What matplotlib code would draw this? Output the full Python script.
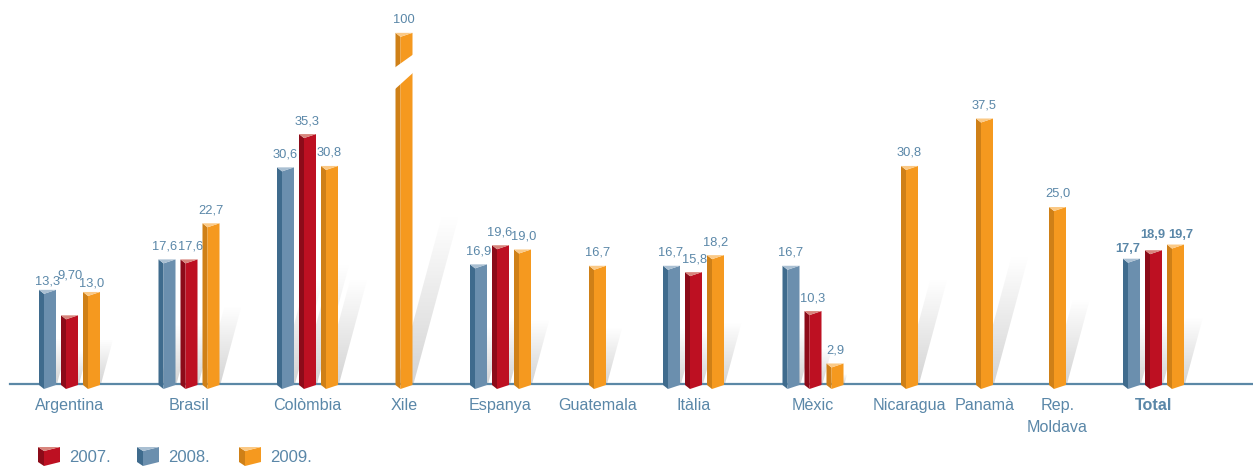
import numpy as np
import matplotlib.pyplot as plt
from matplotlib.patches import Polygon

plt.rcParams['font.family'] = ['Liberation Sans', 'DejaVu Sans']

categories = ['Argentina', 'Brasil', 'Colòmbia', 'Xile', 'Espanya', 'Guatemala',
              'Itàlia', 'Mèxic', 'Nicaragua', 'Panamà', 'Rep.\nMoldava', 'Total']
v2008 = [13.3, 17.6, 30.6, None, 16.9, None, 16.7, 16.7, None, None, None, 17.7]
v2007 = [9.70, 17.6, 35.3, None, 19.6, None, 15.8, 10.3, None, None, None, 18.9]
v2009 = [13.0, 22.7, 30.8, 100, 19.0, 16.7, 18.2, 2.9, 30.8, 37.5, 25.0, 19.7]
lab2008 = ['13,3', '17,6', '30,6', '', '16,9', '', '16,7', '16,7', '', '', '', '17,7']
lab2007 = ['9,70', '17,6', '35,3', '', '19,6', '', '15,8', '10,3', '', '', '', '18,9']
lab2009 = ['13,0', '22,7', '30,8', '100', '19,0', '16,7', '18,2', '2,9', '30,8', '37,5', '25,0', '19,7']

# layout (pixels)
W, H = 1253, 468
BASE = 384          # baseline, px from top
K = 7.08            # px per unit
centers = [69.5, 189, 307.5, 404, 500.5, 597.5, 693.5, 813, 909.5, 984.5, 1057.5, 1153.5]
CAP = 49.6          # displayed height for the broken Xile bar
GAP = 10            # px between bar top and its label
# hand placed labels: (category, series) -> (dx px, label bottom px from top or None)
label_pos = {
    (0, '2008'): (0, 285), (0, '2007'): (0, 278), (0, '2009'): (0, 287),
    (1, '2008'): (-2, None), (1, '2007'): (2, None),
    (4, '2007'): (-1, None), (4, '2009'): (1.5, None),
    (6, '2008'): (-1, None), (6, '2007'): (1, None),
    (11, '2008'): (-4, 252), (11, '2007'): (-1, 238), (11, '2009'): (5.5, 238),
}

TXT = '#5a87a8'
colors = {
    '2008': ('#6b8fae', '#3f6b8d', '#a9bfd2'),
    '2007': ('#bd1022', '#8c0b19', '#d8857c'),
    '2009': ('#f5991f', '#cf8017', '#fbc985'),
}


def dy(px):
    return px / K


def yv(px_top):
    return (BASE - px_top) / K


fig = plt.figure(figsize=(W / 100, H / 100), dpi=100)
ax = fig.add_axes([0, 0, 1, 1])
ax.set_xlim(0, W)
ax.set_ylim(yv(H), yv(0))
ax.axis('off')

# shadow gradient image
grad = np.zeros((100, 2, 4))
grad[..., :3] = 0.72
grad[:, :, 3] = np.linspace(0.6, 0.0, 100)[:, None]


def draw_shadow(xr, h):
    hs = h * 0.48
    dx = hs * K * 0.27
    pts = [(xr - 16, 0), (xr + 1, 0), (xr + 1 + dx, hs), (xr - 16 + dx, hs)]
    poly = Polygon(pts, closed=True, facecolor='none', edgecolor='none')
    ax.add_patch(poly)
    im = ax.imshow(grad, extent=(xr - 16, xr + 1 + dx, 0, hs), origin='lower',
                   aspect='auto', zorder=1, interpolation='bilinear')
    im.set_clip_path(poly)


def draw_bar(xc, h, col, w=17, side=5):
    front, dark, top = col
    xl = xc - w / 2
    xs = xl + side
    xr = xl + w
    tb = dy(4)
    ax.add_patch(Polygon([(xl, -dy(1)), (xs, -dy(5)), (xs, h - tb), (xl, h)],
                         facecolor=dark, edgecolor='none', zorder=3))
    ax.add_patch(Polygon([(xs, -dy(5)), (xr, -dy(1)), (xr, h), (xs, h - tb)],
                         facecolor=front, edgecolor='none', zorder=3))
    ax.add_patch(Polygon([(xl, h), (xr, h), (xs, h - tb)],
                         facecolor=top, edgecolor='none', zorder=3))


ax.plot([10, W], [0, 0], color='#5b88a6', lw=1.6, zorder=2)

series = [(v2008, lab2008, '2008'), (v2007, lab2007, '2007'), (v2009, lab2009, '2009')]
for i, xc in enumerate(centers):
    present = [(vals[i], labs[i], key) for vals, labs, key in series if vals[i] is not None]
    n = len(present)
    bold = categories[i] == 'Total'
    for j, (v, lab, key) in enumerate(present):
        x = xc + (j - (n - 1) / 2) * 22
        h = min(v, CAP)
        draw_shadow(x + 8.5, h)
        draw_bar(x, h, colors[key])
        lx, ly = x, h + dy(GAP)
        if (i, key) in label_pos:
            ddx, ypx = label_pos[(i, key)]
            lx = x + ddx
            if ypx is not None:
                ly = yv(ypx)
        ax.text(lx, ly, lab, ha='center', va='baseline', color=TXT, fontsize=9.3,
                fontweight='bold' if bold else 'normal', zorder=5)
    ax.text(xc, yv(398), categories[i], ha='center', va='top', color=TXT,
            fontsize=11.6, linespacing=1.55,
            fontweight='bold' if bold else 'normal')

# break on the Xile bar
xb = centers[3] - 8.5
ax.add_patch(Polygon([(xb - 2, yv(68.5)), (xb + 19, yv(53.5)), (xb + 19, yv(71.5)), (xb - 2, yv(90.5))],
                     facecolor='white', edgecolor='none', zorder=4))

# legend
for key, lx in [('2007', 49), ('2008', 148), ('2009', 250)]:
    front, dark, top = colors[key]
    xl, xs, xr = lx - 11, lx - 5, lx + 11
    yt, yb = yv(447), yv(466)
    ax.add_patch(Polygon([(xl, yt), (xs, yt - dy(4)), (xs, yb), (xl, yb + dy(4))],
                         facecolor=dark, edgecolor='none', zorder=3))
    ax.add_patch(Polygon([(xs, yt - dy(4)), (xr, yt), (xr, yb + dy(4)), (xs, yb)],
                         facecolor=front, edgecolor='none', zorder=3))
    ax.add_patch(Polygon([(xl, yt), (xr, yt), (xs, yt - dy(4))],
                         facecolor=top, edgecolor='none', zorder=3))
    ax.text(lx + 20, yv(457), key + '.', ha='left', va='center', color=TXT, fontsize=12)

fig.savefig('out.png', dpi=100)
